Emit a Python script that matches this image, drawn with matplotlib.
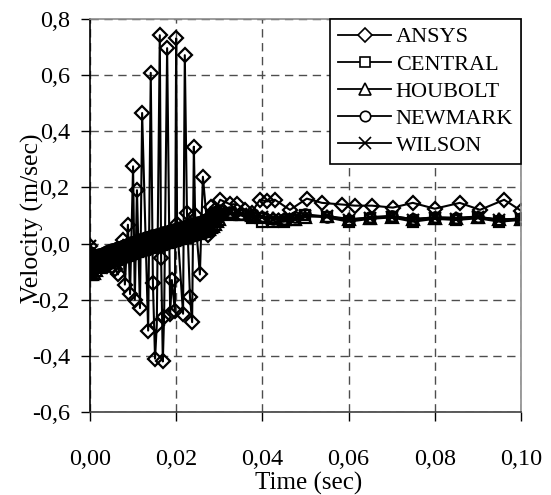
import matplotlib
matplotlib.use("Agg")
import matplotlib.pyplot as plt
from matplotlib.lines import Line2D
from matplotlib.ticker import FuncFormatter

plt.rcParams['font.family'] = ['Liberation Serif', 'DejaVu Serif']

# ANSYS transient result (own time steps)
ansys_t = [0.0000, 0.0010, 0.0020, 0.0030, 0.0040, 0.0050, 0.0058, 0.0065, 0.0077, 0.0081,
           0.0088, 0.0093, 0.0100, 0.0104, 0.0109, 0.0116, 0.0121, 0.0135, 0.0141, 0.0146,
           0.0151, 0.0155, 0.0162, 0.0165, 0.0169, 0.0172, 0.0179, 0.0186, 0.0190, 0.0197,
           0.0200, 0.0202, 0.0216, 0.0220, 0.0225, 0.0232, 0.0237, 0.0241, 0.0244, 0.0255,
           0.0262, 0.0274, 0.0280, 0.0290, 0.0302, 0.0325, 0.0341, 0.0360, 0.0375, 0.0394,
           0.0411, 0.0429, 0.0464, 0.0503, 0.0538, 0.0585, 0.0615, 0.0654, 0.0703, 0.0749,
           0.0800, 0.0858, 0.0905, 0.0961, 0.1000]
ansys_v = [-0.010, -0.060, -0.070, -0.075, -0.080, -0.085, -0.090, -0.110, 0.014, -0.146,
           0.067, -0.180, 0.275, -0.200, 0.190, -0.230, 0.465, -0.310, 0.608, -0.140,
           -0.410, -0.290, 0.742, -0.050, -0.420, -0.260, 0.696, -0.250, -0.130, -0.240,
           0.731, 0.070, -0.250, 0.671, 0.110, -0.190, -0.280, 0.345, 0.100, -0.110,
           0.238, 0.030, 0.130, 0.120, 0.156, 0.140, 0.140, 0.120, 0.110, 0.156,
           0.150, 0.156, 0.120, 0.160, 0.145, 0.139, 0.135, 0.135, 0.128, 0.145,
           0.124, 0.145, 0.120, 0.156, 0.117]

# time steps of the direct integration schemes (fine steps up to 0.03 s)
t_sol = [0.0000, 0.0005, 0.0010, 0.0015, 0.0020, 0.0025, 0.0030, 0.0035, 0.0040, 0.0045,
         0.0050, 0.0055, 0.0060, 0.0065, 0.0070, 0.0075, 0.0080, 0.0085, 0.0090, 0.0095,
         0.0100, 0.0105, 0.0110, 0.0115, 0.0120, 0.0125, 0.0130, 0.0135, 0.0140, 0.0145,
         0.0150, 0.0155, 0.0160, 0.0165, 0.0170, 0.0175, 0.0180, 0.0185, 0.0190, 0.0195,
         0.0200, 0.0205, 0.0210, 0.0215, 0.0220, 0.0225, 0.0230, 0.0235, 0.0240, 0.0245,
         0.0250, 0.0255, 0.0260, 0.0265, 0.0270, 0.0275, 0.0280, 0.0285, 0.0290, 0.0295,
         0.0300,
         0.0325, 0.0350, 0.0375, 0.0400, 0.0425, 0.0450, 0.0475, 0.0500, 0.0550, 0.0600,
         0.0650, 0.0700, 0.0750, 0.0800, 0.0850, 0.0900, 0.0950, 0.1000]

central = [-0.100, -0.095, -0.080, -0.068, -0.060, -0.056, -0.053, -0.050, -0.047, -0.044,
           -0.041, -0.038, -0.036, -0.033, -0.031, -0.028, -0.025, -0.022, -0.019, -0.016,
           -0.013, -0.010, -0.008, -0.005, -0.003, 0.000, 0.002, 0.004, 0.006, 0.009,
           0.011, 0.013, 0.015, 0.018, 0.020, 0.022, 0.024, 0.027, 0.029, 0.031,
           0.033, 0.036, 0.038, 0.040, 0.042, 0.045, 0.047, 0.049, 0.051, 0.054,
           0.056, 0.058, 0.061, 0.064, 0.067, 0.071, 0.077, 0.083, 0.090, 0.096,
           0.102,
           0.110, 0.100, 0.092, 0.078, 0.076, 0.078, 0.085, 0.100, 0.093, 0.078,
           0.088, 0.093, 0.078, 0.088, 0.084, 0.090, 0.078, 0.084]
houbolt = [-0.110, -0.110, -0.106, -0.093, -0.083, -0.077, -0.073, -0.069, -0.066, -0.063,
           -0.060, -0.057, -0.054, -0.051, -0.049, -0.046, -0.043, -0.040, -0.037, -0.034,
           -0.031, -0.028, -0.026, -0.023, -0.021, -0.018, -0.016, -0.014, -0.012, -0.009,
           -0.007, -0.005, -0.003, 0.000, 0.002, 0.004, 0.006, 0.009, 0.011, 0.013,
           0.015, 0.018, 0.020, 0.022, 0.024, 0.027, 0.029, 0.031, 0.033, 0.036,
           0.038, 0.040, 0.043, 0.046, 0.049, 0.053, 0.058, 0.064, 0.071, 0.079,
           0.088,
           0.104, 0.104, 0.100, 0.095, 0.090, 0.087, 0.088, 0.096, 0.098, 0.088,
           0.090, 0.096, 0.088, 0.092, 0.090, 0.094, 0.086, 0.088]
newmark = [-0.030, -0.050, -0.040, -0.042, -0.039, -0.036, -0.033, -0.030, -0.027, -0.024,
           -0.021, -0.018, -0.016, -0.013, -0.011, -0.008, -0.005, -0.002, 0.001, 0.004,
           0.007, 0.010, 0.012, 0.015, 0.017, 0.020, 0.022, 0.024, 0.026, 0.029,
           0.031, 0.033, 0.035, 0.038, 0.040, 0.042, 0.044, 0.047, 0.049, 0.051,
           0.053, 0.056, 0.058, 0.060, 0.062, 0.065, 0.067, 0.069, 0.071, 0.074,
           0.076, 0.078, 0.081, 0.084, 0.088, 0.094, 0.101, 0.107, 0.112, 0.116,
           0.118,
           0.112, 0.106, 0.100, 0.094, 0.088, 0.086, 0.094, 0.104, 0.096, 0.084,
           0.094, 0.099, 0.086, 0.094, 0.092, 0.096, 0.084, 0.090]
wilson = [-0.010, -0.070, -0.072, -0.064, -0.056, -0.052, -0.049, -0.046, -0.043, -0.040,
          -0.037, -0.034, -0.032, -0.029, -0.027, -0.024, -0.021, -0.018, -0.015, -0.012,
          -0.009, -0.006, -0.004, -0.001, 0.001, 0.004, 0.006, 0.008, 0.010, 0.013,
          0.015, 0.017, 0.019, 0.022, 0.024, 0.026, 0.028, 0.031, 0.033, 0.035,
          0.037, 0.040, 0.042, 0.044, 0.046, 0.049, 0.051, 0.053, 0.055, 0.058,
          0.060, 0.062, 0.065, 0.068, 0.072, 0.077, 0.083, 0.090, 0.097, 0.103,
          0.108,
          0.108, 0.104, 0.099, 0.094, 0.089, 0.086, 0.089, 0.098, 0.097, 0.085,
          0.091, 0.096, 0.085, 0.091, 0.089, 0.093, 0.084, 0.087]

names = ['ANSYS', 'CENTRAL', 'HOUBOLT', 'NEWMARK', 'WILSON']
markers = ['D', 's', '^', 'o', 'x']
sizes = [7, 7, 8, 7.5, 8]

fig = plt.figure(figsize=(5.51, 4.95), dpi=100)
ax = fig.add_axes([0.1633, 0.1677, 0.7822, 0.794])

series = [(ansys_t, ansys_v), (t_sol, central), (t_sol, houbolt), (t_sol, newmark), (t_sol, wilson)]
for (tt, vv), m, ms in zip(series, markers, sizes):
    ax.plot(tt, vv, color='black', lw=1.5, marker=m, ms=ms, mfc='none', mec='black', mew=1.6)

ax.set_xlim(0, 0.1)
ax.set_ylim(-0.6, 0.8)
ax.set_xticks([0, 0.02, 0.04, 0.06, 0.08, 0.10])
ax.set_yticks([-0.6, -0.4, -0.2, 0.0, 0.2, 0.4, 0.6, 0.8])
ax.xaxis.set_major_formatter(FuncFormatter(lambda v, p: f"{v:.2f}".replace('.', ',')))
ax.yaxis.set_major_formatter(FuncFormatter(lambda v, p: f"{v:.1f}".replace('.', ',').replace('-0,0', '0,0')))
ax.tick_params(direction='out', length=6.5, width=1, labelsize=17.5, colors='black')
ax.tick_params(axis='y', pad=8)
ax.tick_params(axis='x', pad=20)

ax.grid(True, color='0.3', lw=1, linestyle=(0, (6, 4)))
ax.set_axisbelow(True)
ax.spines['left'].set_color('black')
ax.spines['bottom'].set_color('0.25')
ax.spines['top'].set_color('0.55')
ax.spines['right'].set_color('0.55')
for s in ax.spines.values():
    s.set_linewidth(1.2)

fig.text(0.058, 0.56, 'Velocity (m/sec)', rotation=90, ha='center', va='center', fontsize=18.5)
fig.text(0.56, 0.0, 'Time (sec)', ha='center', va='bottom', fontsize=18)

# legend keys with white-filled markers
handles = [Line2D([], [], color='black', lw=1.3, marker=m, ms=ms, mfc='white', mec='black', mew=1.2)
           for m, ms in zip(markers, sizes)]
leg = ax.legend(handles, names, loc='upper right', bbox_to_anchor=(1.0, 1.0), fontsize=16,
                frameon=True, fancybox=False, edgecolor='black', framealpha=1, handlelength=2.4,
                handletextpad=0.2, labelspacing=0.3, borderpad=0.35, borderaxespad=0)
leg.get_frame().set_linewidth(1.2)

fig.savefig('out.png', dpi=100)
